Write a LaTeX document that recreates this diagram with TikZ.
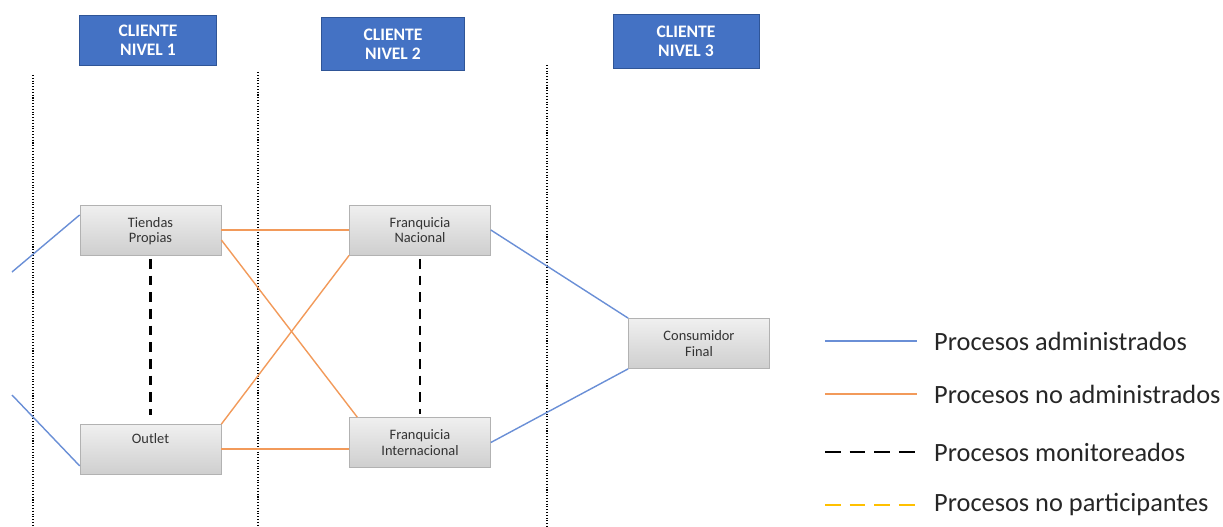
\documentclass[tikz,border=0pt]{standalone}
\usepackage{fontspec}
\setmainfont{Carlito}
\usetikzlibrary{positioning}
\definecolor{encabezado}{HTML}{4472C4}
\definecolor{borde}{HTML}{2F5597}
\definecolor{admin}{HTML}{6A8FD6}
\definecolor{noadmin}{HTML}{F29A5A}
\definecolor{nopart}{HTML}{FFC000}
\tikzset{
  nivel/.style={draw=borde, fill=encabezado, text=white, font=\fontsize{10}{11}\selectfont\bfseries, align=center, minimum width=2.75cm, minimum height=1cm, inner sep=0pt},
  canal/.style={draw=gray!60, top color=gray!12, bottom color=gray!38, font=\fontsize{8.2}{9}\selectfont, text=black!80, align=center, minimum width=2.82cm, minimum height=1cm, inner sep=0pt, text depth=0pt, anchor=center},
  adm/.style={admin, line width=0.8pt},
  noadm/.style={noadmin, line width=0.8pt},
  monit/.style={black, line width=1.6pt, dash pattern=on 5.5pt off 4pt},
  limite/.style={black, line width=0.6pt, densely dotted},
  leyenda/.style={anchor=west, font=\fontsize{15}{17}\selectfont, text=black!85}
}
\begin{document}
\begin{tikzpicture}[x=0.02cm, y=-0.02cm]
\useasboundingbox (0,0) rectangle (1223,527);
% encabezados
\node[nivel] (n1) at (148,40) {CLIENTE\\NIVEL 1};
\node[nivel, minimum width=2.86cm, minimum height=1.06cm] (n2) at (393,44) {CLIENTE\\NIVEL 2};
\node[nivel, minimum width=2.92cm, minimum height=1.08cm] (n3) at (686,41) {CLIENTE\\NIVEL 3};
% divisiones
\draw[limite] (33,75) -- (33,527);
\draw[limite] (258,72) -- (258,527);
\draw[limite] (547,65) -- (547,527);
% canales
\node[canal] (tp) at (150.5,230) {Tiendas\\Propias};
\node[canal] (ol) at (150.5,449.5) {Outlet\\[4pt]};
\node[canal] (fn) at (420,230) {Franquicia\\Nacional};
\node[canal] (fi) at (420,442.5) {Franquicia\\Internacional};
\node[canal] (cf) at (699,343.5) {Consumidor\\Final};
% entradas
\coordinate (e1) at (12,272);
\coordinate (e2) at (12,395);
\draw[adm] (e1) -- (tp.168);
\draw[adm] (e2) -- (ol.193);
% procesos no administrados
\draw[noadm] (tp.east) -- (fn.west);
\draw[noadm] (tp.-8) -- (fi.158);
\draw[noadm] (ol.north east) -- (fn.south west);
\draw[noadm] ([yshift=0.2pt]ol.east) -- ([yshift=0.2pt]ol.east -| fi.west);
% procesos administrados
\draw[adm] (fn.east) -- (cf.north west);
\draw[adm] (fi.east) -- (cf.south west);
% procesos monitoreados
\draw[monit] ([yshift=-2pt]tp.south) -- ([yshift=5pt]ol.north);
\draw[monit] ([yshift=-2pt]fn.south) -- ([yshift=2pt]fi.north);
% leyenda
\coordinate (l1) at (825,341);
\coordinate (l2) at (825,394);
\coordinate (l3) at (825,452);
\coordinate (l4) at (825,505);
\node[leyenda] (t1) at (928,341) {Procesos administrados};
\node[leyenda] (t2) at (928,394) {Procesos no administrados};
\node[leyenda] (t3) at (928,452) {Procesos monitoreados};
\node[leyenda] (t4) at (928,505) {Procesos no participantes};
\draw[admin, line width=1pt] (l1) -- ++(92,0);
\draw[noadmin, line width=1pt] (l2) -- ++(92,0);
\draw[black, line width=1.7pt, dash pattern=on 9pt off 5pt] (l3) -- ++(92,0);
\draw[nopart, line width=1.7pt, dash pattern=on 9pt off 5pt] (l4) -- ++(92,0);
\end{tikzpicture}
\end{document}
